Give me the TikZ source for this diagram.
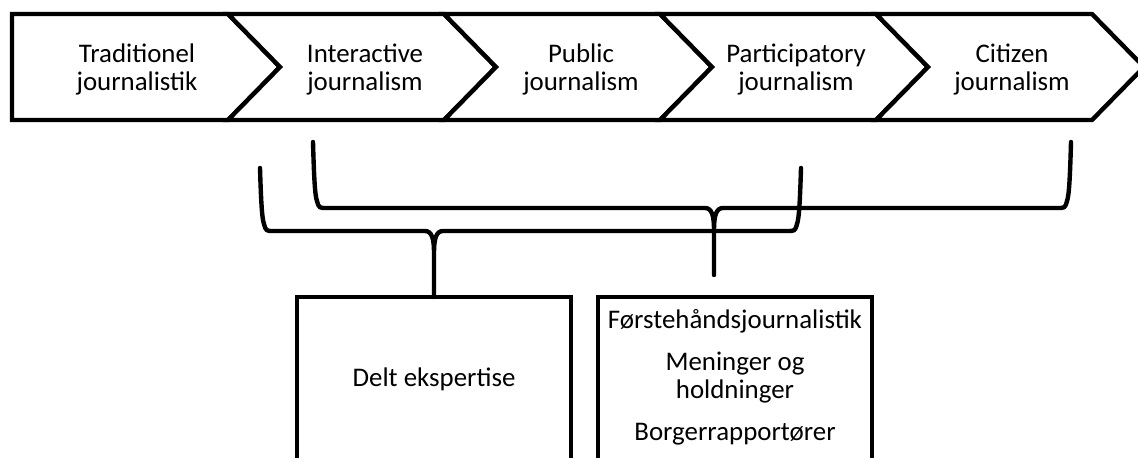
\documentclass[tikz,border=0pt]{standalone}
\usepackage{fontspec}
\setmainfont{Carlito}
\tikzset{
  chevron/.style={line width=2.5pt, draw=black, fill=white, line join=miter},
  bracket/.style={line width=2.5pt, draw=black, line join=round, line cap=round},
  box/.style={line width=2.5pt, draw=black, fill=white, minimum width=5.48cm,
    minimum height=5cm, anchor=north, inner sep=0pt, outer sep=0pt},
  txt/.style={align=center, anchor=base, inner sep=0pt,
    font=\fontsize{15.3pt}{15.9pt}\selectfont}
}
% #1 left x, #2 stem x, #3 right x, #4 arm top, #5 bar, #6 tip
\newcommand{\curly}[6]{%
  \draw[bracket] (#1,#4) .. controls (#1+1,#5-30) and (#1+2,#5-12) .. (#1+4,#5-7)
    .. controls (#1+6,#5) .. (#1+14,#5) -- (#2-9,#5)
    .. controls (#2-2,#5) and (#2,#5+8) .. (#2,#5+22) -- (#6)
    -- (#2,#5+22) .. controls (#2,#5+8) and (#2+2,#5) .. (#2+9,#5)
    -- (#3-14,#5) .. controls (#3-6,#5) .. (#3-4,#5-7)
    .. controls (#3-2,#5-12) and (#3-1,#5-30) .. (#3,#4);
}

\begin{document}
\begin{tikzpicture}[x=0.02cm, y=-0.02cm]
    \path[use as bounding box, fill=white] (0,0) rectangle (1138,457);

    % process chevrons (base = last line)
    \foreach \i/\tx/\name/\txt in {0/137/trad/{Traditionel\\journalistik},
        1/365/inter/{Interactive\\journalism}, 2/581/pub/{Public\\journalism},
        3/796/part/{Participatory\\journalism}, 4/1012/cit/{Citizen\\journalism}} {
      \pgfmathsetmacro\xl{12+216*\i}
      \pgfmathsetmacro\nd{\i>0 ? 52 : 0}
      \draw[chevron] (\xl,14) -- (\xl+216,14) -- (\xl+268,67) -- (\xl+216,120)
        -- (\xl,120) -- (\xl+\nd,67) -- cycle;
      \node[txt] (\name) at (\tx,90) {\txt};
    }

    \node[box] (deltbox) at (434,297) {};
    \node[box] (forbox) at (735,297) {};
    \node[txt] (delt) at (434,386) {Delt ekspertise};
    \node[txt] (forst) at (735,440) {Førstehåndsjournalistik\\[0.28cm]Meninger og\\holdninger\\[0.28cm]Borgerrapportører};

    \coordinate (b2tip) at (714,275);
    \curly{260}{434}{801}{168}{231}{deltbox.north}
    \curly{313}{714}{1071}{142}{208}{b2tip}
\end{tikzpicture}
\end{document}
